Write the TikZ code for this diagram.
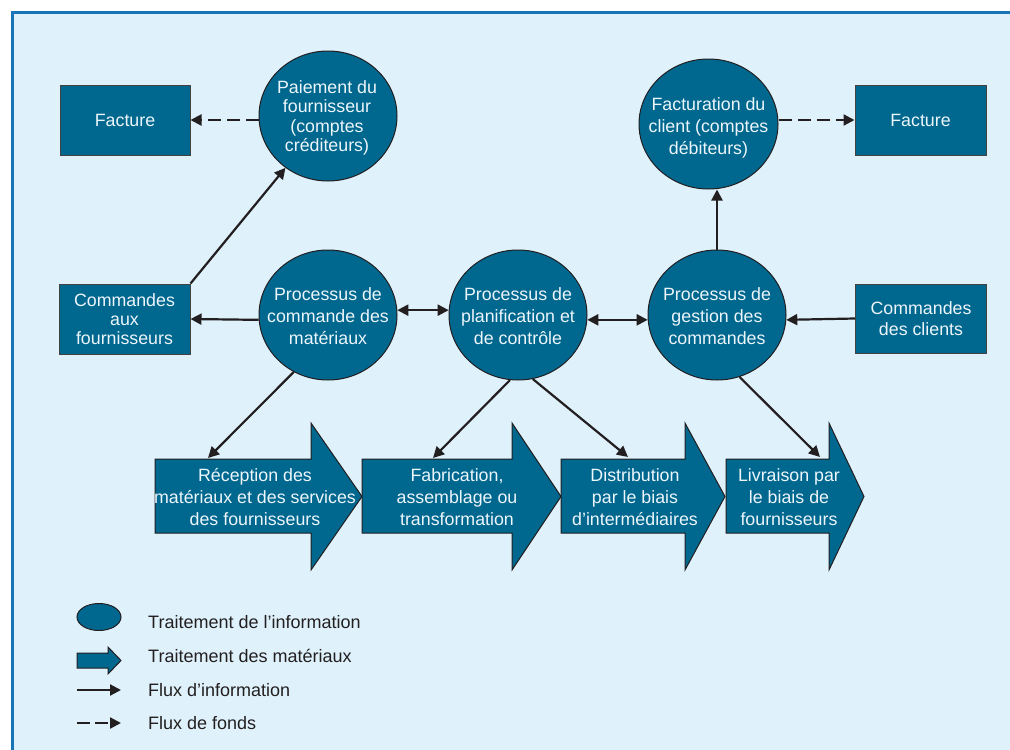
\documentclass[tikz,border=0pt]{standalone}
\usepackage{fontspec}
\setmainfont{Liberation Sans}
\usetikzlibrary{arrows.meta,shapes.geometric}

\definecolor{panel}{RGB}{223,242,251}
\definecolor{framec}{RGB}{24,118,184}
\definecolor{procfill}{RGB}{0,103,143}
\definecolor{ink}{RGB}{35,31,32}
\definecolor{lbltext}{RGB}{236,246,251}

\tikzset{
  proc/.style={ellipse, fill=procfill, draw=ink, line width=1pt,
    minimum width=138pt, minimum height=130pt, inner sep=0pt},
  docbox/.style={rectangle, fill=procfill, draw=ink!85, line width=1pt,
    minimum width=131pt, minimum height=70pt, inner sep=0pt,
    text=lbltext, align=center, font=\fontsize{17.8}{21}\selectfont},
  lbl/.style={text=lbltext, align=center, inner sep=0pt,
    font=\fontsize{17.8}{21.7}\selectfont},
  tight/.style={font=\fontsize{17.8}{19.3}\selectfont},
  matflow/.style={fill=procfill, draw=ink, line width=1pt, line join=miter},
  tip/.style={Triangle[length=11pt,width=11pt]},
  info/.style={draw=ink, line width=2.2pt, -{Triangle[length=11pt,width=11pt]}},
  infoboth/.style={draw=ink, line width=2.2pt,
    {Triangle[length=11pt,width=11pt]}-{Triangle[length=11pt,width=11pt]}},
  funds/.style={info, dash pattern=on 13pt off 6pt},
  legtext/.style={text=ink, anchor=west, inner sep=0pt,
    font=\fontsize{18}{20}\selectfont}
}

\begin{document}
\begin{tikzpicture}[x=1pt,y=-1pt]
\useasboundingbox (0,0) rectangle (1010,750);

% panel
\fill[white] (0,0) rectangle (1030,770);
\fill[panel] (12,12.5) rectangle (1030,770);
\draw[framec, line width=3pt] (12,770) -- (12,12.5) -- (1030,12.5);

% document boxes
\node[docbox, minimum width=130pt] (fac1) at (125,120) {Facture};
\node[docbox] (fac2) at (920.5,120) {Facture};
\node[docbox, tight] (caf) at (124.5,319) {Commandes\\aux\\fournisseurs};
\node[docbox, minimum height=69pt] (cli) at (921,318.5) {Commandes\\des clients};

% information processes
\node[proc] (pay) at (328,116) {};
\node[lbl, tight] at (327,118) {Paiement du\\fournisseur\\(comptes\\créditeurs)};
\node[proc, minimum width=139pt] (fct) at (708.5,124) {};
\node[lbl] at (708.5,128) {Facturation du\\client (comptes\\débiteurs)};
\node[proc] (cmd) at (328,315) {};
\node[lbl] at (328,316) {Processus de\\commande des\\matériaux};
\node[proc] (plan) at (518,315) {};
\node[lbl] at (518,316) {Processus de\\planification et\\de contrôle};
\node[proc] (ges) at (717,315) {};
\node[lbl] at (717,316) {Processus de\\gestion des\\commandes};

% material flows
\draw[matflow] (155,459) -- (311,459) -- (311,423) -- (362,496.5) -- (311,570)
  -- (311,533) -- (155,533) -- cycle;
\draw[matflow] (362,459) -- (512,459) -- (512,423) -- (561,496.5) -- (512,570)
  -- (512,533) -- (362,533) -- cycle;
\draw[matflow] (561,459) -- (685,459) -- (685,423) -- (725,496.5) -- (685,570)
  -- (685,533) -- (561,533) -- cycle;
\draw[matflow] (726,459) -- (829,459) -- (829,423) -- (864,496.5) -- (829,570)
  -- (829,533) -- (726,533) -- cycle;
\node[lbl] (m1) at (255,497) {Réception des\\matériaux et des services\\des fournisseurs};
\node[lbl] (m2) at (457,497) {Fabrication,\\assemblage ou\\transformation};
\node[lbl] (m3) at (635,497) {Distribution\\par le biais\\d’intermédiaires};
\node[lbl] (m4) at (789,497) {Livraison par\\le biais de\\fournisseurs};
\coordinate (m1in) at (208,458);
\coordinate (m2in) at (433,458);
\coordinate (m3in) at (628,457);
\coordinate (m4in) at (820,457);

% information flows
\draw[info] (caf.north east) -- (pay);
\draw[info] (cmd.184) -- (caf.east);
\draw[infoboth] (cmd.4) -- (plan.176);
\draw[infoboth] (plan.-4) -- (ges.184);
\draw[info] (cli.west) -- (ges.-4);
\draw[info] (ges.north) -- (ges.north |- fct.south);
\draw[info] (cmd.239) -- (m1in);
\draw[info] (plan.263) -- (m2in);
\draw[info] (plan.283) -- (m3in);
\draw[info] (ges.290) -- (m4in);

% flows of funds
\draw[funds] (pay.west |- fac1) -- (fac1.east);
\draw[funds] (fct.east |- fac2) -- (fac2.west);

% legend
\node[ellipse, fill=procfill, draw=ink, line width=1pt, minimum width=44pt,
  minimum height=27pt, inner sep=0pt] (k1) at (99,617) {};
\draw[matflow] (77,653) -- (108,653) -- (108,647) -- (121,660.5) -- (108,674)
  -- (108,668) -- (77,668) -- cycle;
\coordinate (k3a) at (77,690);
\coordinate (k3b) at (121,690);
\coordinate (k4a) at (77,723);
\coordinate (k4b) at (121,723);
\draw[info] (k3a) -- (k3b);
\draw[info, dash pattern=on 13pt off 5pt] (k4a) -- (k4b);
\node[legtext] at (148,622) {Traitement de l’information};
\node[legtext] at (148,656) {Traitement des matériaux};
\node[legtext] at (148,690) {Flux d’information};
\node[legtext] at (148,723) {Flux de fonds};
\end{tikzpicture}
\end{document}
